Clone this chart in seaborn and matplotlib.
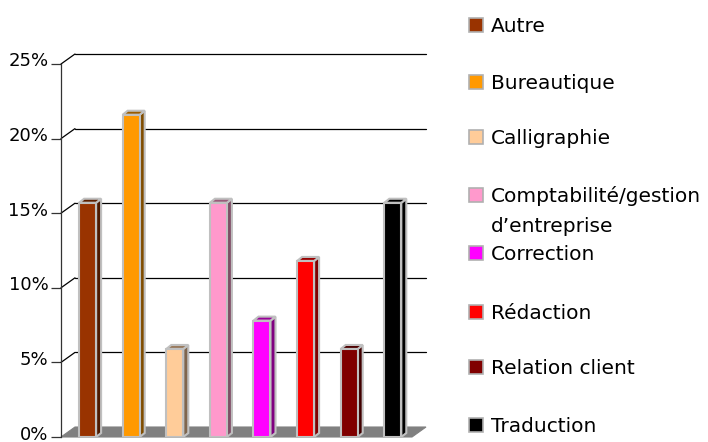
import matplotlib
matplotlib.use("Agg")
import matplotlib.pyplot as plt
import seaborn as sns
from matplotlib.patches import Polygon, Rectangle
from matplotlib.lines import Line2D
import matplotlib.colors as mcolors
from matplotlib.transforms import ScaledTranslation

categories = ["Autre", "Bureautique", "Calligraphie", "Comptabilité/gestion\nd’entreprise",
              "Correction", "Rédaction", "Relation client", "Traduction"]
values = [15.7, 21.6, 5.9, 15.7, 7.8, 11.8, 5.9, 15.7]
colors = ["#993300", "#ff9900", "#ffcc99", "#ff99cc", "#ff00ff", "#ff0000", "#800000", "#000000"]
yticks = [0, 5, 10, 15, 20, 25]
ytick_labels = ["0%", "5%", "10%", "15%", "20%", "25%"]

sns.set_theme(style="white")
plt.rcParams['font.family'] = ['DejaVu Sans']

W, H = 708, 442
fig = plt.figure(figsize=(W / 100, H / 100), dpi=100)
ax_l, ax_r, ax_b, ax_t = 61, 426, 437, 50
ax = fig.add_axes([ax_l / W, (H - ax_b) / H, (ax_r - ax_l) / W, (ax_b - ax_t) / H])

px_cat = 43.6
px_pct = 14.92
x0 = -0.61
x1 = x0 + (ax_r - ax_l) / px_cat
y1 = (ax_b - ax_t) / px_pct

palette = dict(zip(categories, colors))
sns.barplot(x=categories, y=values, hue=categories, palette=palette, legend=False,
            width=0.39, saturation=1, edgecolor="#c0c0c0", linewidth=1.5, ax=ax, zorder=5)

ax.set_xlim(x0, x1)
ax.set_ylim(0, y1)

# wall / floor depth
dxw, dyw = 14 / px_cat, 10 / px_pct
dxb, dyb = 5 / px_cat, 4 / px_pct

# floor
xr_front = x1 - dxw
floor = Polygon([(x0, 0), (xr_front, 0), (xr_front + dxw, dyw), (x0 + dxw, dyw)],
                closed=True, facecolor="#808080", edgecolor="#808080", lw=0.8,
                zorder=1, clip_on=False)

bars = list(ax.patches)
ax.add_patch(floor)

# back wall gridlines + diagonals
for v in yticks[1:]:
    ax.add_line(Line2D([x0 + dxw, x1], [v + dyw, v + dyw], color="#000000", lw=0.9, zorder=2, clip_on=False))
    ax.add_line(Line2D([x0, x0 + dxw], [v, v + dyw], color="#000000", lw=0.9, zorder=2, clip_on=False))

# 3D faces for bars
for p in bars:
    bx0 = p.get_x()
    bw = p.get_width()
    h = p.get_height()
    bx1 = bx0 + bw
    fc = mcolors.to_rgb(p.get_facecolor())
    side = tuple(c * 0.5 for c in fc)
    top = tuple(c * 0.6 for c in fc)
    ax.add_patch(Polygon([(bx1, 0), (bx1 + dxb, dyb), (bx1 + dxb, h + dyb), (bx1, h)], closed=True,
                         facecolor=side, edgecolor="#c0c0c0", lw=1.5, zorder=4))
    ax.add_patch(Polygon([(bx0, h), (bx0 + dxb, h + dyb), (bx1 + dxb, h + dyb), (bx1, h)], closed=True,
                         facecolor=top, edgecolor="#c0c0c0", lw=1.5, zorder=4))

# axes styling
for s in ["top", "right", "bottom"]:
    ax.spines[s].set_visible(False)
ax.spines["left"].set_color("#333333")
ax.spines["left"].set_linewidth(0.9)
ax.spines["left"].set_bounds(0, 25)
ax.set_xticks([])
ax.set_yticks(yticks)
ax.set_yticklabels(ytick_labels, fontsize=13, color="black")
ax.tick_params(axis="y", left=True, length=7, width=0.9, color="#333333", pad=2)
shift = ScaledTranslation(0, 4.5 / 100, fig.dpi_scale_trans)
for lbl in ax.get_yticklabels():
    lbl.set_transform(lbl.get_transform() + shift)
ax.set_xlabel("")
ax.set_ylabel("")
ax.patch.set_alpha(0)

# legend (manual)
leg_y = [24.5, 81.7, 136.7, 195, 253, 311.7, 366.7, 425]
for cat, col, yc in zip(categories, colors, leg_y):
    fig.add_artist(Rectangle((469 / W, 1 - (yc + 7) / H), 14 / W, 14 / H, transform=fig.transFigure,
                             facecolor=col, edgecolor="#b0b0b0", lw=1.2))
    lines = cat.split("\n")
    for i, ln in enumerate(lines):
        fig.text(491 / W, 1 - (yc + 7 + i * 30) / H, ln, fontsize=14.5, color="black",
                 ha="left", va="baseline")

fig.savefig("out.png", dpi=100)
